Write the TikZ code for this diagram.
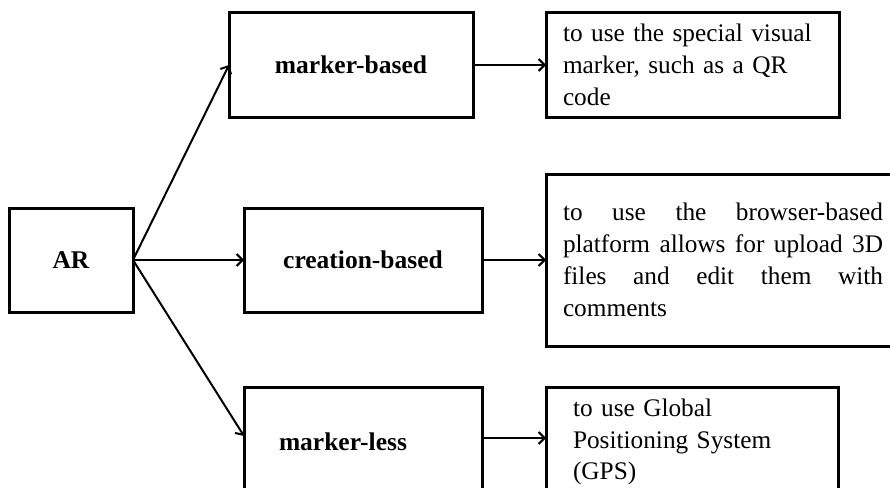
\documentclass[tikz,border=0pt]{standalone}
\usepackage{fontspec}
\setmainfont{Liberation Serif}
\usetikzlibrary{arrows.meta}
\begin{document}
\begin{tikzpicture}[x=1pt,y=-1pt,
  box/.style={draw=black,line width=3pt,rectangle,inner sep=0pt,outer sep=0pt,
    font=\fontsize{25.3}{31.8}\selectfont},
  lab/.style={box,font=\fontsize{25.5}{31.5}\selectfont\bfseries},
  desc/.style={box,align=left},
  conn/.style={line width=2pt,-{Straight Barb[length=6pt,width=12pt,line width=2pt]}}]
\clip (0,0) rectangle (890,487);
\fill[white] (0,0) rectangle (890,487);
\node[lab,minimum width=124pt,minimum height=104pt] (ar) at (71,260) {AR};
\node[lab,minimum width=244pt,minimum height=104pt] (mb) at (351,65) {marker-based};
\node[lab,minimum width=238pt,minimum height=104pt] (cb) at (363,260) {creation-based};
\node[lab,anchor=north,minimum width=238pt,minimum height=110pt,inner xsep=35pt,text width=168pt,align=left] (ml) at (363,387) {marker-less};
\node[desc,minimum width=293pt,minimum height=104pt,inner xsep=17pt,text width=259pt] (d1) at (692.5,65)
  {to use the special visual\\marker, such as a QR\\code};
\node[desc,minimum width=354pt,minimum height=172pt,inner xsep=17pt,text width=320pt] (d2) at (723,260)
  {\makebox[320pt][l]{to\hfill use\hfill the\hfill browser-based}\\
   \makebox[320pt][l]{platform\hfill allows\hfill for\hfill upload\hfill 3D}\\
   \makebox[320pt][l]{files\hfill and\hfill edit\hfill them\hfill with}\\
   comments};
\node[desc,anchor=north,minimum width=292pt,minimum height=110pt,inner xsep=27pt,text width=238pt] (d3) at (692,387)
  {to use Global\\Positioning System\\(GPS)};
\draw[conn] (ar.east) -- (mb.west);
\draw[conn] (ar.east) -- (cb.west);
\draw[conn] (ar.east) -- ([yshift=6pt]ml.west);
\draw[conn] (mb.east) -- (d1.west);
\draw[conn] (cb.east) -- (d2.west);
\draw[conn] ([yshift=4pt]ml.east) -- ([yshift=4pt]d3.west);
\end{tikzpicture}
\end{document}
